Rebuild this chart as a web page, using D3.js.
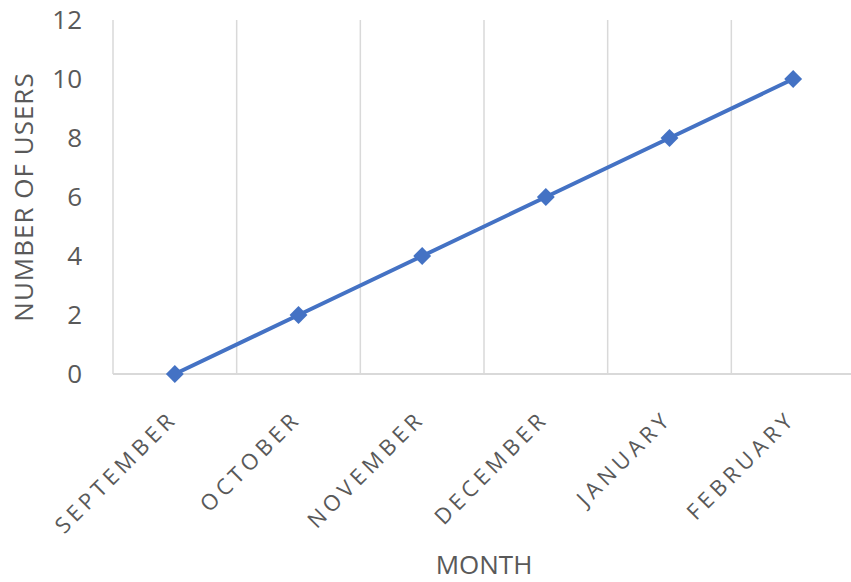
<!DOCTYPE html>
<html>
<head>
<meta charset="utf-8">
<script src="https://cdn.jsdelivr.net/npm/d3@7"></script>
<style>
  body { margin: 0; background: #fff; }
  text { font-family: "Open Sans", "Liberation Sans", sans-serif; fill: #595959; }
</style>
</head>
<body>
<div id="chart"></div>
<script>
let months = ['SEPTEMBER', 'OCTOBER', 'NOVEMBER', 'DECEMBER', 'JANUARY', 'FEBRUARY'];
let users = [0, 2, 4, 6, 8, 10];
let yTicks = [0, 2, 4, 6, 8, 10, 12];

let width = 851, height = 582;
let margin = {top: 20, right: -4, bottom: 208, left: 113};

let svg = d3.select('#chart').append('svg')
  .attr('width', width)
  .attr('height', height);

let x = d3.scaleBand()
  .domain(months)
  .range([margin.left, width - margin.right]);

let y = d3.scaleLinear()
  .domain([0, 12])
  .range([height - margin.bottom, margin.top]);

// vertical gridlines between categories
let gridX = months.map(m => x(m));
svg.append('g')
  .selectAll('line')
  .data(gridX)
  .join('line')
  .attr('x1', d => d).attr('x2', d => d)
  .attr('y1', y(12)).attr('y2', y(0))
  .attr('stroke', '#d9d9d9')
  .attr('stroke-width', 1.5);

// horizontal axis line
svg.append('line')
  .attr('x1', margin.left).attr('x2', width - margin.right)
  .attr('y1', y(0)).attr('y2', y(0))
  .attr('stroke', '#d9d9d9')
  .attr('stroke-width', 2);

// y tick labels
svg.append('g')
  .selectAll('text')
  .data(yTicks)
  .join('text')
  .attr('x', 82)
  .attr('y', d => y(d))
  .attr('dy', '0.36em')
  .attr('text-anchor', 'end')
  .style('font-size', '26px')
  .text(d => d);

// x tick labels, rotated
svg.append('g')
  .selectAll('text')
  .data(months)
  .join('text')
  .attr('transform', d => `translate(${x(d) + x.bandwidth() / 2 + 4},420) rotate(-45)`)
  .attr('text-anchor', 'end')
  .style('font-size', '22px')
  .style('letter-spacing', '4.5px')
  .text(d => d);

// axis titles
svg.append('text')
  .attr('transform', `translate(33,${(y(0) + y(12)) / 2}) rotate(-90)`)
  .attr('text-anchor', 'middle')
  .style('font-size', '26px')
  .style('letter-spacing', '1px')
  .text('NUMBER OF USERS');

svg.append('text')
  .attr('x', (margin.left + width - margin.right) / 2)
  .attr('y', 574)
  .attr('text-anchor', 'middle')
  .style('font-size', '26px')
  .text('MONTH');

// line + markers
let cx = d => x(d) + x.bandwidth() / 2;
let line = d3.line()
  .x((d, i) => cx(months[i]))
  .y(d => y(d));

svg.append('path')
  .datum(users)
  .attr('d', line)
  .attr('fill', 'none')
  .attr('stroke', '#4472c4')
  .attr('stroke-width', 4)
  .attr('stroke-linejoin', 'round');

let diamond = d3.symbol().type(d3.symbolSquare).size(160);
svg.append('g')
  .selectAll('path')
  .data(users)
  .join('path')
  .attr('d', diamond)
  .attr('transform', (d, i) => `translate(${cx(months[i])},${y(d)}) rotate(45)`)
  .attr('fill', '#4472c4');
</script>
</body>
</html>
